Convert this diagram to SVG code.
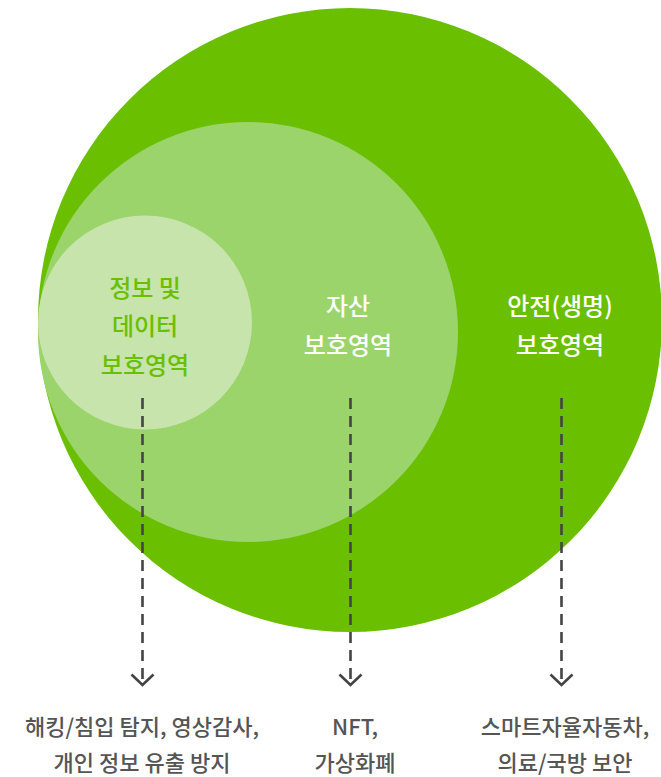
<svg xmlns="http://www.w3.org/2000/svg" width="661" height="777" viewBox="0 0 661 777">
<style>
text{font-family:"Noto Sans CJK KR","Noto Sans",sans-serif;text-anchor:middle}
.lbl{font-size:24px;font-weight:500}
.w{fill:#ffffff}
.g{fill:#6abf00}
.cap{font-size:22px;fill:#555555;font-weight:500}
.dash{stroke:#444444;stroke-width:2.6;stroke-dasharray:11 7;fill:none}
</style>
<defs>
<marker id="arr" markerWidth="16" markerHeight="26" refX="12" refY="13" orient="auto" markerUnits="userSpaceOnUse" viewBox="0 0 16 26">
<path d="M1.5 2 L12 13 L1.5 24" fill="none" stroke="#444444" stroke-width="2.6"/>
</marker>
</defs>
<rect width="661" height="777" fill="#ffffff"/>
<g id="outer">
<circle cx="350" cy="320" r="312" fill="#6abf00"/>
<text class="lbl w" x="560" y="315">안전(생명)</text>
<text class="lbl w" x="560" y="354">보호영역</text>
</g>
<g id="middle">
<circle cx="248" cy="332" r="210" fill="#9bd46a"/>
<text class="lbl w" x="348" y="315">자산</text>
<text class="lbl w" x="348" y="354">보호영역</text>
</g>
<g id="inner">
<circle cx="145" cy="322.5" r="107" fill="#c6e4ab"/>
<text class="lbl g" x="145" y="297">정보 및</text>
<text class="lbl g" x="145" y="335">데이터</text>
<text class="lbl g" x="145" y="374">보호영역</text>
</g>
<g id="connectors">
<line class="dash" x1="142.5" y1="398" x2="142.5" y2="685" marker-end="url(#arr)"/>
<line class="dash" x1="350.5" y1="398" x2="350.5" y2="685" marker-end="url(#arr)"/>
<line class="dash" x1="561.5" y1="398" x2="561.5" y2="685" marker-end="url(#arr)"/>
</g>
<g id="captions">
<text class="cap" x="142" y="735">해킹/침입 탐지, 영상감사,</text>
<text class="cap" x="142" y="771">개인 정보 유출 방지</text>
<text class="cap" x="355" y="735">NFT,</text>
<text class="cap" x="355" y="771">가상화폐</text>
<text class="cap" x="565" y="735">스마트자율자동차,</text>
<text class="cap" x="565" y="771">의료/국방 보안</text>
</g>
</svg>
